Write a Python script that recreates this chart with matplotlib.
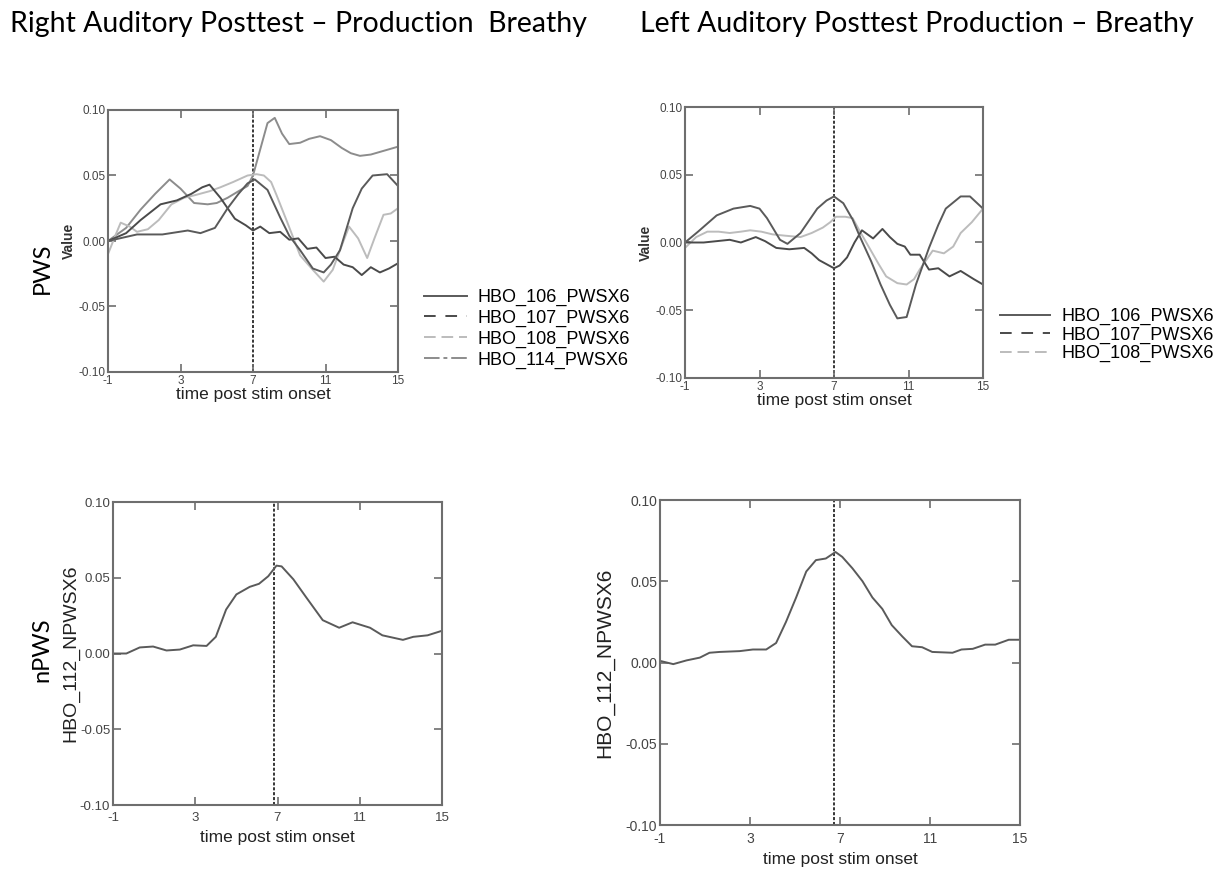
import matplotlib
matplotlib.use('Agg')
import matplotlib.pyplot as plt
from matplotlib.lines import Line2D
import numpy as np

### DATA
xticks = [-1, 3, 7, 11, 15]
yticks = [-0.10, -0.05, 0.00, 0.05, 0.10]

# top left: Right Auditory, PWS
rl_106_x = [-1, 0.6, 2.0, 3.4, 4.1, 4.9, 5.6, 6.2, 6.7, 7.1, 7.8, 8.5, 9.0, 9.6, 10.3, 10.9, 11.3, 11.8, 12.5, 13.0, 13.6, 14.4, 15]
rl_106_y = [0.0, 0.005, 0.005, 0.008, 0.006, 0.010, 0.025, 0.036, 0.044, 0.047, 0.039, 0.018, 0.004, -0.007, -0.021, -0.024, -0.018, -0.007, 0.025, 0.040, 0.050, 0.051, 0.042]
rl_107_x = [-1, 0.0, 0.8, 1.9, 2.8, 3.6, 4.2, 4.6, 5.2, 6.0, 6.6, 7.0, 7.4, 7.9, 8.5, 9.0, 9.5, 10.0, 10.5, 11.0, 11.5, 12.0, 12.5, 13.0, 13.5, 14.0, 14.5, 15]
rl_107_y = [0.0, 0.006, 0.016, 0.028, 0.031, 0.036, 0.041, 0.043, 0.033, 0.017, 0.012, 0.008, 0.011, 0.006, 0.007, 0.001, 0.002, -0.006, -0.005, -0.013, -0.012, -0.018, -0.020, -0.026, -0.020, -0.024, -0.021, -0.017]
rl_108_x = [-1, -0.6, -0.3, 0.2, 0.6, 1.2, 1.8, 2.5, 3.2, 3.8, 4.6, 5.2, 5.9, 6.7, 7.2, 7.6, 8.0, 8.3, 8.9, 9.6, 10.3, 10.9, 11.4, 11.8, 12.3, 12.8, 13.3, 13.7, 14.2, 14.6, 15]
rl_108_y = [-0.010, 0.004, 0.014, 0.011, 0.007, 0.009, 0.016, 0.028, 0.033, 0.035, 0.038, 0.041, 0.045, 0.050, 0.051, 0.050, 0.045, 0.035, 0.014, -0.011, -0.022, -0.031, -0.022, -0.007, 0.011, 0.002, -0.013, 0.002, 0.020, 0.021, 0.025]
rl_114_x = [-1, 0.0, 0.8, 1.6, 2.4, 3.0, 3.75, 4.5, 5.0, 5.6, 6.2, 6.7, 7.0, 7.4, 7.8, 8.2, 8.6, 9.0, 9.6, 10.1, 10.7, 11.3, 11.9, 12.4, 12.9, 13.5, 14.0, 14.5, 15]
rl_114_y = [0.0, 0.010, 0.024, 0.036, 0.047, 0.040, 0.029, 0.028, 0.029, 0.033, 0.038, 0.042, 0.050, 0.070, 0.090, 0.094, 0.082, 0.074, 0.075, 0.078, 0.080, 0.077, 0.071, 0.067, 0.065, 0.066, 0.068, 0.070, 0.072]

# top right: Left Auditory, PWS
ll_106_x = [-1, -0.3, 0.7, 1.6, 2.5, 3.0, 3.4, 4.1, 4.5, 5.2, 5.7, 6.1, 6.6, 7.0, 7.5, 8.0, 8.4, 9.0, 9.5, 10.0, 10.4, 10.9, 11.4, 12.1, 12.6, 13.0, 13.8, 14.3, 15]
ll_106_y = [0.0, 0.008, 0.020, 0.025, 0.027, 0.025, 0.018, 0.002, -0.001, 0.007, 0.017, 0.025, 0.031, 0.034, 0.029, 0.017, 0.004, -0.014, -0.031, -0.046, -0.056, -0.055, -0.031, -0.004, 0.013, 0.025, 0.034, 0.034, 0.025]
ll_107_x = [-1, 0.0, 0.7, 1.4, 2.0, 2.8, 3.3, 3.9, 4.6, 5.4, 5.8, 6.2, 6.6, 7.0, 7.3, 7.7, 8.1, 8.5, 8.8, 9.1, 9.6, 10.0, 10.4, 10.8, 11.1, 11.6, 12.1, 12.6, 13.2, 13.8, 14.5, 15]
ll_107_y = [0.0, 0.000, 0.001, 0.002, 0.000, 0.004, 0.001, -0.004, -0.005, -0.004, -0.008, -0.013, -0.016, -0.019, -0.017, -0.011, 0.000, 0.009, 0.006, 0.003, 0.010, 0.004, -0.001, -0.003, -0.009, -0.009, -0.020, -0.019, -0.025, -0.021, -0.027, -0.031]
ll_108_x = [-1, -0.4, 0.2, 0.8, 1.4, 2.0, 2.5, 3.1, 3.7, 4.4, 5.2, 5.8, 6.4, 6.8, 7.1, 7.6, 8.0, 8.4, 8.9, 9.4, 9.8, 10.4, 10.9, 11.3, 11.6, 12.0, 12.3, 12.9, 13.4, 13.8, 14.4, 15]
ll_108_y = [-0.004, 0.004, 0.008, 0.008, 0.007, 0.008, 0.009, 0.008, 0.006, 0.005, 0.004, 0.007, 0.011, 0.015, 0.019, 0.019, 0.018, 0.008, -0.004, -0.016, -0.025, -0.030, -0.031, -0.027, -0.020, -0.012, -0.006, -0.008, -0.003, 0.007, 0.015, 0.025]

# bottom left: Right Auditory, nPWS
rn_x = [-1, -0.35, 0.3, 0.95, 1.6, 2.25, 2.9, 3.55, 4.0, 4.5, 5.0, 5.65, 6.1, 6.55, 6.95, 7.2, 7.77, 8.4, 9.2, 10.0, 10.65, 11.5, 12.1, 13.1, 13.6, 14.3, 15]
rn_y = [0.0, 0.0, 0.004, 0.0046, 0.002, 0.0026, 0.0054, 0.005, 0.011, 0.029, 0.039, 0.044, 0.046, 0.051, 0.058, 0.0575, 0.049, 0.037, 0.022, 0.017, 0.0206, 0.017, 0.012, 0.009, 0.011, 0.012, 0.015]

# bottom right: Left Auditory, nPWS
ln_x = [-1, -0.41, 0.18, 0.77, 1.2, 1.65, 2.54, 3.13, 3.72, 4.16, 4.6, 5.05, 5.5, 5.93, 6.37, 6.8, 7.1, 7.55, 8.0, 8.44, 8.88, 9.3, 9.77, 10.2, 10.65, 11.1, 12.0, 12.4, 12.9, 13.45, 13.9, 14.5, 15]
ln_y = [0.001, -0.001, 0.0013, 0.003, 0.006, 0.0065, 0.007, 0.008, 0.008, 0.012, 0.025, 0.040, 0.056, 0.063, 0.064, 0.068, 0.065, 0.058, 0.050, 0.040, 0.033, 0.023, 0.016, 0.010, 0.0094, 0.0065, 0.006, 0.008, 0.0084, 0.011, 0.011, 0.014, 0.014]

onsets = [7.0, 7.0, 6.85, 6.75]

### STYLE
gray_axis = '#6e6e6e'
col_106 = '#5a5a5a'
col_107 = '#4a4a4a'
col_108 = '#bcbcbc'
col_114 = '#8c8c8c'
tick_font = 'Liberation Sans'
W, H = 1221., 871.

fig = plt.figure(figsize=(12.21, 8.71), dpi=100, facecolor='w')

def box(l, t, r, b):
	# pixel box of the reference -> figure fraction
	return [l/W, 1-b/H, (r-l)/W, (b-t)/H]

def setup(ax, onset, tick_fs, tpad, lpad):
	ax.set_xlim(-1, 15)
	ax.set_ylim(-0.10, 0.10)
	ax.set_xticks(xticks)
	ax.set_yticks(yticks)
	ax.set_xticklabels([str(t) for t in xticks], fontsize=tick_fs, family=tick_font, color='#444444')
	ax.set_yticklabels(['%.2f' % t for t in yticks], fontsize=tick_fs, family=tick_font, color='#444444')
	ax.tick_params(direction='in', length=6, width=1.2, color=gray_axis, top=True, right=True, pad=2)
	ax.tick_params(axis='x', pad=tpad)
	for s in ax.spines.values():
		s.set_color(gray_axis)
		s.set_linewidth(1.5)
	ax.axvline(onset, color='k', ls=(0, (2, 1.2)), lw=1.1, zorder=1)
	ax.set_xlabel('time post stim onset', fontsize=12.5, family=tick_font, color='#222222', labelpad=lpad)

# top left
ax1 = fig.add_axes(box(108, 110, 398, 372))
setup(ax1, onsets[0], 8.5, 2, 0)
ax1.plot(rl_114_x, rl_114_y, color=col_114, lw=1.4)
ax1.plot(rl_108_x, rl_108_y, color=col_108, lw=1.4)
ax1.plot(rl_107_x, rl_107_y, color=col_107, lw=1.4)
ax1.plot(rl_106_x, rl_106_y, color=col_106, lw=1.4)
ax1.set_ylabel('Value', fontsize=10, family=tick_font, weight='bold', color='#333333', labelpad=2)
h1 = [Line2D([], [], color=col_106, lw=1.4),
	Line2D([], [], color=col_107, lw=1.4, ls=(0, (6, 5))),
	Line2D([], [], color=col_108, lw=1.4, ls=(0, (6, 3))),
	Line2D([], [], color=col_114, lw=1.4, ls=(0, (8, 2, 2, 2)))]
ax1.legend(h1, ['HBO_106_PWSX6', 'HBO_107_PWSX6', 'HBO_108_PWSX6', 'HBO_114_PWSX6'],
	loc='upper left', bbox_to_anchor=(424/W, 1-289/H), bbox_transform=fig.transFigure,
	frameon=False, prop={'family': tick_font, 'size': 13}, handlelength=2.4,
	handletextpad=0.55, labelspacing=0.2, borderpad=0, borderaxespad=0)

# top right
ax2 = fig.add_axes(box(685, 107, 983, 378))
setup(ax2, onsets[1], 8.5, 2, 0)
ax2.plot(ll_108_x, ll_108_y, color=col_108, lw=1.4)
ax2.plot(ll_107_x, ll_107_y, color=col_107, lw=1.4)
ax2.plot(ll_106_x, ll_106_y, color=col_106, lw=1.4)
ax2.set_ylabel('Value', fontsize=10, family=tick_font, weight='bold', color='#333333', labelpad=2)
h2 = [Line2D([], [], color=col_106, lw=1.4),
	Line2D([], [], color=col_107, lw=1.4, ls=(0, (6, 5))),
	Line2D([], [], color=col_108, lw=1.4, ls=(0, (6, 3)))]
ax2.legend(h2, ['HBO_106_PWSX6', 'HBO_107_PWSX6', 'HBO_108_PWSX6'],
	loc='upper left', bbox_to_anchor=(1000/W, 1-308/H), bbox_transform=fig.transFigure,
	frameon=False, prop={'family': tick_font, 'size': 13}, handlelength=2.75,
	handletextpad=0.65, labelspacing=0.08, borderpad=0, borderaxespad=0)

# bottom left
ax3 = fig.add_axes(box(113, 502, 442, 805))
setup(ax3, onsets[2], 9.5, 5, 4)
ax3.plot(rn_x, rn_y, color=col_106, lw=1.4)
ax3.set_ylabel('HBO_112_NPWSX6', fontsize=14, family=tick_font, color='#222222', labelpad=0)

# bottom right
ax4 = fig.add_axes(box(660, 500, 1020, 825))
setup(ax4, onsets[3], 10, 5, 4)
ax4.plot(ln_x, ln_y, color=col_106, lw=1.4)
ax4.set_ylabel('HBO_112_NPWSX6', fontsize=15, family=tick_font, color='#222222', labelpad=8)

# titles and row labels
fig.text(10/W, 1-24/H, 'Right Auditory Posttest \u2013 Production  Breathy', fontsize=20.5, family='Lato', va='center', ha='left')
fig.text(640/W, 1-24/H, 'Left Auditory Posttest Production \u2013 Breathy', fontsize=20.5, family='Lato', va='center', ha='left')
fig.text(42/W, 1-268/H, 'PWS', fontsize=17, family='Lato', rotation=90, va='center', ha='center')
fig.text(42/W, 1-650/H, 'nPWS', fontsize=17, family='Lato', rotation=90, va='center', ha='center')

plt.savefig('out.png', dpi=100, facecolor='w')
